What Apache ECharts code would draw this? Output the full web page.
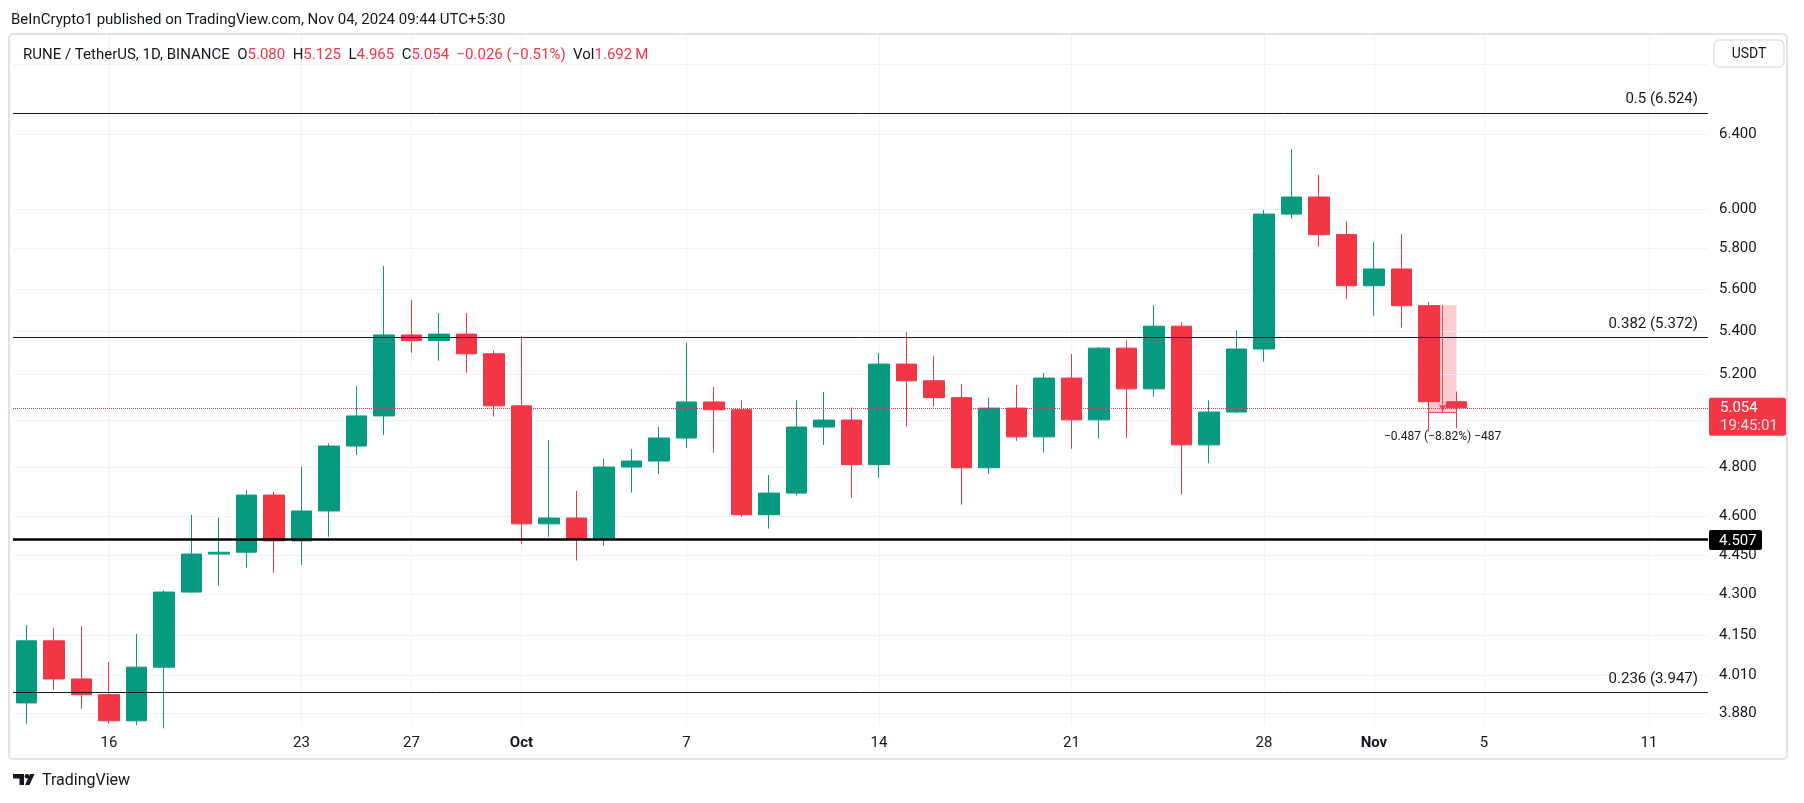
<!DOCTYPE html>
<html><head><meta charset="utf-8">
<script src="https://cdn.jsdelivr.net/npm/echarts@6/dist/echarts.min.js"></script>
<style>html,body{margin:0;padding:0;background:#fff}#c{width:1804px;height:803px}</style>
</head><body><div id="c"></div>
<script>
// ---------------- DATA ----------------
const dates = [
 '2024-09-13','2024-09-14','2024-09-15','2024-09-16','2024-09-17','2024-09-18','2024-09-19','2024-09-20','2024-09-21','2024-09-22',
 '2024-09-23','2024-09-24','2024-09-25','2024-09-26','2024-09-27','2024-09-28','2024-09-29','2024-09-30',
 '2024-10-01','2024-10-02','2024-10-03','2024-10-04','2024-10-05','2024-10-06','2024-10-07','2024-10-08','2024-10-09','2024-10-10',
 '2024-10-11','2024-10-12','2024-10-13','2024-10-14','2024-10-15','2024-10-16','2024-10-17','2024-10-18','2024-10-19','2024-10-20',
 '2024-10-21','2024-10-22','2024-10-23','2024-10-24','2024-10-25','2024-10-26','2024-10-27','2024-10-28','2024-10-29','2024-10-30','2024-10-31',
 '2024-11-01','2024-11-02','2024-11-03','2024-11-04'];
const opens  = [3.915,4.131,3.997,3.943,3.855,4.038,4.309,4.453,4.460,4.686,
                4.504,4.622,4.889,5.018,5.382,5.356,5.386,5.295,
                5.062,4.571,4.594,4.511,4.801,4.826,4.923,5.079,5.045,4.607,
                4.694,4.970,5.000,4.811,5.248,5.173,5.098,4.798,5.052,4.928,
                5.185,5.001,5.321,5.137,5.423,4.894,5.035,5.317,5.975,6.064,5.870,
                5.616,5.698,5.520,5.080];
const closes = [4.131,3.997,3.943,3.855,4.038,4.309,4.453,4.460,4.686,4.504,
                4.622,4.889,5.018,5.382,5.356,5.386,5.295,5.062,
                4.571,4.594,4.511,4.801,4.826,4.923,5.079,5.045,4.607,4.694,
                4.970,5.000,4.811,5.248,5.173,5.098,4.798,5.052,4.928,5.185,
                5.001,5.321,5.137,5.423,4.894,5.035,5.317,5.975,6.064,5.870,5.616,
                5.698,5.520,5.080,5.054];
const lows   = [3.845,3.959,3.895,3.845,3.840,3.830,4.307,4.333,4.401,4.382,
                4.411,4.520,4.851,4.936,5.300,5.263,5.209,5.015,
                4.491,4.520,4.428,4.485,4.696,4.773,4.881,4.861,4.599,4.552,
                4.684,4.894,4.675,4.757,4.971,5.058,4.647,4.773,4.911,4.861,
                4.877,4.920,4.924,5.102,4.688,4.817,5.030,5.259,5.951,5.809,5.552,
                5.472,5.416,4.950,4.965];
const highs  = [4.188,4.178,4.184,4.056,4.156,4.315,4.606,4.595,4.706,4.699,
                4.803,4.900,5.149,5.713,5.547,5.485,5.485,5.310,
                5.377,4.915,4.703,4.835,4.877,4.970,5.345,5.145,5.086,4.768,
                5.086,5.123,5.055,5.299,5.396,5.285,5.158,5.098,5.154,5.208,
                5.294,5.325,5.358,5.523,5.442,5.086,5.405,5.996,6.321,6.181,5.939,
                5.832,5.873,5.537,5.125];

const priceTicks      = [6.8, 6.4, 6.0, 5.8, 5.6, 5.4, 5.2, 5.0, 4.8, 4.6, 4.45, 4.3, 4.15, 4.01, 3.88];
const priceTickLabels = ['', '6.400','6.000','5.800','5.600','5.400','5.200','5.000','4.800','4.600','4.450','4.300','4.150','4.010','3.880'];
const timeTickDates   = ['2024-09-16','2024-09-23','2024-09-27','2024-10-01','2024-10-07','2024-10-14','2024-10-21','2024-10-28','2024-11-01','2024-11-05','2024-11-11'];
const timeTickLabels  = ['16','23','27','Oct','7','14','21','28','Nov','5','11'];

const fibLevels = [6.524, 5.372, 3.947];
const fibLabels = ['0.5 (6.524)', '0.382 (5.372)', '0.236 (3.947)'];
const supportLevel = 4.507;
const lastPrice = 5.054;
const countdown = '19:45:01';
const measureFrom = '2024-11-03', measureTo = '2024-11-04';
const measureHigh = 5.522, measureLow = 5.035;
const measureText = '\u22120.487 (\u22128.82%) \u2212487';

const yMin = 3.841, yMax = 6.976;
const xMinDay = -0.49, xMaxDay = 61.15;

// ---------------- CHART ----------------
const FONT = 'Roboto, "Noto Sans", sans-serif';
const TXT = '#131722';
const UP = '#089981', DOWN = '#f23645';
const GRIDC = '#f0f3fa';

const t0 = Date.parse(dates[0]);
const dayIdx = d => Math.round((Date.parse(d) - t0) / 864e5);
const candleData = dates.map((d, i) => [dayIdx(d), opens[i], closes[i], lows[i], highs[i]]);

const gridLines = [];
priceTicks.forEach((v, i) => gridLines.push({
  yAxis: v,
  label: { show: priceTickLabels[i] !== '', formatter: priceTickLabels[i], position: 'end', distance: 11,
           padding: [4, 0, 0, 0], color: TXT, fontSize: 15, fontFamily: FONT }
}));
timeTickDates.forEach((d, i) => gridLines.push({
  xAxis: dayIdx(d),
  label: { show: true, formatter: timeTickLabels[i], position: 'start', distance: 11,
           color: TXT, fontSize: 15, fontFamily: FONT,
           fontWeight: /^[A-Z]/.test(timeTickLabels[i]) ? 'bold' : 'normal' }
}));

const mFrom = dayIdx(measureFrom), mTo = dayIdx(measureTo), mMid = (mFrom + mTo) / 2;
const levelLines = fibLevels.map((v, i) => ({
  yAxis: v,
  lineStyle: { color: TXT, width: 1, type: 'solid' },
  label: { show: true, position: 'insideEndTop', formatter: fibLabels[i], distance: [10, 6],
           color: TXT, fontSize: 15, fontFamily: FONT }
}));
levelLines.push({ yAxis: supportLevel, lineStyle: { color: '#000', width: 2.5, type: 'solid' }, label: { show: false } });
levelLines.push({ yAxis: lastPrice, lineStyle: { color: DOWN, width: 1, type: 'dotted' }, label: { show: false } });
// measurement tool: arrow and bottom edge
levelLines.push([
  { coord: [mMid, measureHigh], symbol: 'none', lineStyle: { color: 'rgba(242,54,69,0.9)', width: 1, type: 'solid' }, label: { show: false } },
  { coord: [mMid, measureLow], symbol: 'arrow', symbolSize: [6, 8] }
]);
levelLines.push([
  { coord: [mFrom, measureLow], symbol: 'none', lineStyle: { color: 'rgba(242,54,69,0.9)', width: 1, type: 'solid' }, label: { show: false } },
  { coord: [mTo, measureLow], symbol: 'none' }
]);

const chart = echarts.init(document.getElementById('c'), null, { renderer: 'canvas', width: 1804, height: 803 });

chart.setOption({
  animation: false,
  backgroundColor: '#ffffff',
  grid: { left: 13, right: 96, top: 35, bottom: 78, containLabel: false },
  xAxis: { type: 'value', min: xMinDay, max: xMaxDay,
           axisLabel: { show: false }, axisTick: { show: false }, axisLine: { show: false }, splitLine: { show: false } },
  yAxis: { type: 'log', logBase: 10, min: yMin, max: yMax, position: 'right',
           axisLabel: { show: false }, axisTick: { show: false }, axisLine: { show: false }, splitLine: { show: false } },
  series: [
    { type: 'line', name: 'grid', data: [], silent: true, z: 1,
      markLine: { silent: true, z: 1, animation: false, symbol: ['none', 'none'],
                  lineStyle: { color: GRIDC, width: 1, type: 'solid' },
                  data: gridLines } },
    { type: 'candlestick', name: 'RUNE/USDT', data: candleData, encode: { x: 0, y: [1, 2, 3, 4] },
      barWidth: 21, clip: true, z: 2,
      itemStyle: { color: UP, color0: DOWN, borderColor: UP, borderColor0: DOWN, borderWidth: 1 },
      markLine: { silent: true, animation: false, symbol: ['none', 'none'], data: levelLines },
      markArea: { silent: true, z: 1,
        itemStyle: { color: 'rgba(242,54,69,0.25)' },
        label: { show: true, position: 'bottom', formatter: measureText, distance: 19,
                 color: TXT, fontSize: 12, fontFamily: FONT },
        data: [[{ xAxis: mFrom, yAxis: measureHigh }, { xAxis: mTo, yAxis: measureLow }]] } }
  ]
});

const yLast = chart.convertToPixel({ yAxisIndex: 0 }, lastPrice);
const ySup = chart.convertToPixel({ yAxisIndex: 0 }, supportLevel);
const axisX = 1709;

function txt(x, y, text, size, color, extra) {
  return Object.assign({ type: 'text', x: x, y: y, z: 100,
    style: Object.assign({ text: text, fill: color, font: size + 'px ' + FONT,
      align: 'left', verticalAlign: 'middle', textAlign: 'left', textVerticalAlign: 'middle' }, extra || {}) });
}

chart.setOption({
  graphic: { elements: [
    { type: 'rect', z: 0, shape: { x: 9, y: 34, width: 1778, height: 725, r: 4 },
      style: { fill: 'none', stroke: '#e0e3eb', lineWidth: 2 } },
    txt(11, 20, 'BeInCrypto1 published on TradingView.com, Nov 04, 2024 09:44 UTC+5:30', 15, TXT),
    { type: 'text', x: 23, y: 55, z: 100,
      style: { text: '{n|RUNE / TetherUS, 1D, BINANCE}  {k|O}{v|5.080}  {k|H}{v|5.125}  {k|L}{v|4.965}  {k|C}{v|5.054}  {v|\u22120.026 (\u22120.51%)}  {k|Vol}{v|1.692\u2009M}',
               font: '15px ' + FONT, verticalAlign: 'middle', textVerticalAlign: 'middle',
               rich: { n: { fill: TXT, color: TXT, fontSize: 15, fontFamily: FONT },
                       k: { fill: TXT, color: TXT, fontSize: 15, fontFamily: FONT },
                       v: { fill: DOWN, color: DOWN, fontSize: 15, fontFamily: FONT } } } },
    { type: 'rect', z: 100, shape: { x: 1714, y: 40, width: 70, height: 27, r: 5 },
      style: { fill: '#fff', stroke: '#e0e3eb', lineWidth: 1.5 } },
    txt(1749, 54, 'USDT', 14, TXT, { align: 'center', textAlign: 'center' }),
    { type: 'rect', z: 100, shape: { x: axisX, y: yLast - 10, width: 77, height: 38, r: 2 }, style: { fill: DOWN } },
    txt(axisX + 11, yLast + 1, lastPrice.toFixed(3), 15, '#fff'),
    txt(axisX + 11, yLast + 19, countdown, 15, 'rgba(255,255,255,0.85)'),
    { type: 'rect', z: 100, shape: { x: axisX, y: ySup - 10, width: 53, height: 20, r: 2 }, style: { fill: '#000' } },
    txt(axisX + 10, ySup + 1, supportLevel.toFixed(3), 15, '#fff'),
    // TradingView logo
    { type: 'polygon', z: 100, shape: { points: [[13,774],[24,774],[24,785],[19.5,785],[19.5,778.5],[13,778.5]] }, style: { fill: TXT } },
    { type: 'circle', z: 100, shape: { cx: 27, cy: 776.3, r: 2.3 }, style: { fill: TXT } },
    { type: 'polygon', z: 100, shape: { points: [[30,774],[34.5,774],[29.5,785],[25,785]] }, style: { fill: TXT } },
    txt(42, 781, 'TradingView', 16, TXT)
  ] }
});
</script></body></html>
